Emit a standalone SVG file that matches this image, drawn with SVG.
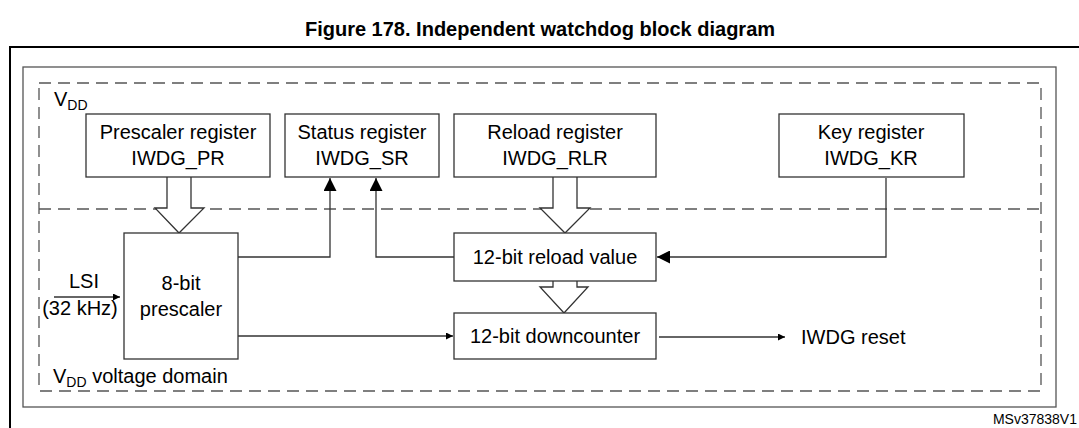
<svg xmlns="http://www.w3.org/2000/svg" width="1079" height="428" viewBox="0 0 1079 428">
<style>
text{font-family:"Liberation Sans",Arial,sans-serif;fill:#000}
.t{font-size:20px;text-anchor:middle}
.box{fill:#fff;stroke:#333;stroke-width:1.3}
.dash{fill:none;stroke:#555;stroke-width:1.3;stroke-dasharray:12,7}
.ln{fill:none;stroke:#333;stroke-width:1.3}
.hol{fill:#fff;stroke:#333;stroke-width:1.3}
</style>
<defs>
<marker id="big" viewBox="0 0 10 10" refX="10" refY="5" markerWidth="13" markerHeight="13" markerUnits="userSpaceOnUse" orient="auto"><path d="M0,0L10,5L0,10z" fill="#000"/></marker>
<marker id="sm" viewBox="0 0 10 10" refX="10" refY="5" markerWidth="7" markerHeight="7" markerUnits="userSpaceOnUse" orient="auto"><path d="M0,0L10,5L0,10z" fill="#000"/></marker>
</defs>
<rect width="1079" height="428" fill="#fff"/>
<text x="540" y="36" style="font-size:20px;font-weight:bold;text-anchor:middle">Figure 178. Independent watchdog block diagram</text>
<path d="M10,428V47H1085" fill="none" stroke="#000" stroke-width="2"/>
<rect x="23" y="67" width="1033" height="340" fill="none" stroke="#555" stroke-width="1.3"/>
<rect class="dash" x="39" y="83" width="1002" height="308"/>
<line class="dash" x1="39" y1="209" x2="1041" y2="209"/>
<text x="54" y="106" style="font-size:20px">V<tspan font-size="14" dy="4">DD</tspan></text>
<text x="53" y="383" style="font-size:20px">V<tspan font-size="14" dy="4">DD</tspan><tspan dy="-4"> voltage domain</tspan></text>
<text x="1077" y="424" style="font-size:14px;text-anchor:end">MSv37838V1</text>

<g id="connectors">
<path class="hol" d="M167,177V208H155L179,233L204,208H191V177"/>
<path class="hol" d="M553,177V208H540L565,233L590,208H577V177"/>
<path class="hol" d="M553,281V287H540L564,313L588,287H577V281"/>
<path class="ln" d="M238,257H330V178" marker-end="url(#big)"/>
<path class="ln" d="M454,257H376V178" marker-end="url(#big)"/>
<path class="ln" d="M886,178V257H657" marker-end="url(#big)"/>
<path class="ln" d="M238,336H453" marker-end="url(#sm)"/>
<path class="ln" d="M659,337H785" marker-end="url(#sm)"/>
<path class="ln" d="M54,297H120" marker-end="url(#sm)"/>
</g>

<g id="prescaler-register"><rect class="box" x="86" y="114" width="184" height="63"/><text class="t" x="178" y="139">Prescaler register</text><text class="t" x="178" y="165">IWDG_PR</text></g>
<g id="status-register"><rect class="box" x="285" y="114" width="154" height="63"/><text class="t" x="362" y="139">Status register</text><text class="t" x="362" y="165">IWDG_SR</text></g>
<g id="reload-register"><rect class="box" x="454" y="114" width="202" height="63"/><text class="t" x="555" y="139">Reload register</text><text class="t" x="555" y="165">IWDG_RLR</text></g>
<g id="key-register"><rect class="box" x="779" y="114" width="185" height="63"/><text class="t" x="871" y="139">Key register</text><text class="t" x="871" y="165">IWDG_KR</text></g>
<g id="prescaler"><rect class="box" x="124" y="233" width="114" height="126"/><text class="t" x="181" y="290">8-bit</text><text class="t" x="181" y="316">prescaler</text></g>
<g id="reload-value"><rect class="box" x="454" y="233" width="202" height="48"/><text class="t" x="555" y="264">12-bit reload value</text></g>
<g id="downcounter"><rect class="box" x="454" y="313" width="202" height="46"/><text class="t" x="555" y="343">12-bit downcounter</text></g>
<g id="lsi"><text class="t" x="84" y="288">LSI</text><text class="t" x="80" y="315">(32 kHz)</text></g>
<g id="iwdg-reset"><text x="801" y="344" style="font-size:20px">IWDG reset</text></g>
</svg>
